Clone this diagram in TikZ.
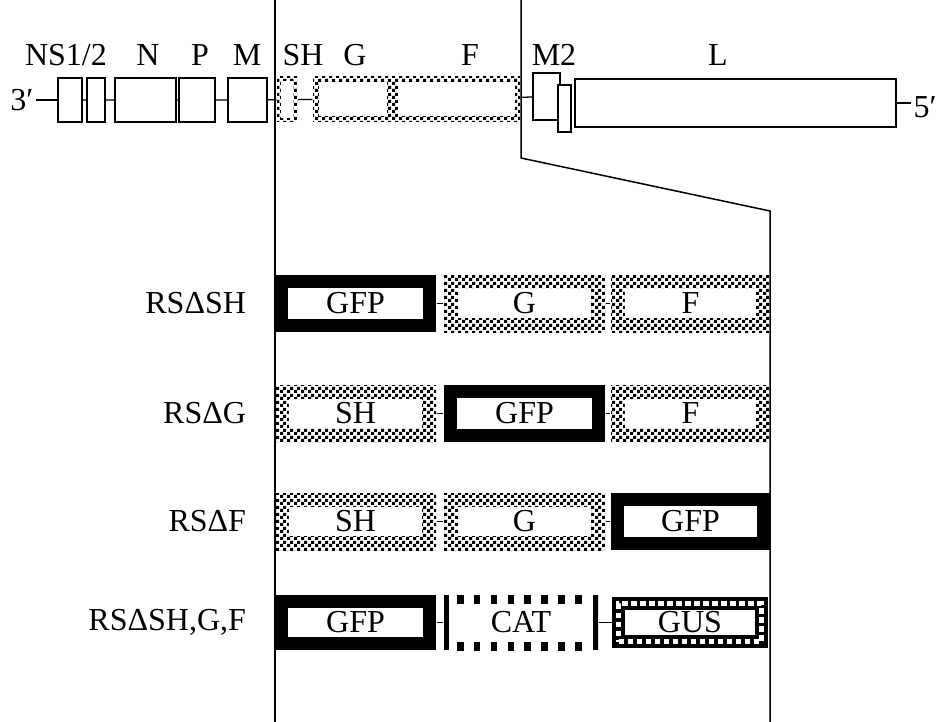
\documentclass[tikz,border=0pt]{standalone}
\usepackage{fontspec}
\setmainfont{Liberation Serif}
\usetikzlibrary{patterns}

% checker squares for the deleted genes
\pgfdeclarepatternformonly{chk}{\pgfpointorigin}{\pgfqpoint{7pt}{7pt}}{\pgfqpoint{7pt}{7pt}}{%
  \pgfpathrectangle{\pgfpointorigin}{\pgfqpoint{3.5pt}{3.5pt}}%
  \pgfpathrectangle{\pgfqpoint{3.5pt}{3.5pt}}{\pgfqpoint{3.5pt}{3.5pt}}%
  \pgfusepath{fill}}

\tikzset{
  gene/.style={draw, line width=1.3pt, fill=white, inner sep=0pt},
  inset/.style={path picture={\fill[white] ([shift={(#1,#1)}]path picture bounding box.south west)
      rectangle ([shift={(-#1,-#1)}]path picture bounding box.north east);}},
  chkbox/.style={inner sep=0pt, pattern=chk, inset=#1},
  rowbox/.style={minimum width=161pt, minimum height=57pt},
  gfpbox/.style={inner sep=0pt, fill=black, inset=13pt},
  catbox/.style={inner sep=0pt, path picture={
      \draw[line width=10pt] (path picture bounding box.north west) -- (path picture bounding box.south west);
      \draw[line width=10pt] (path picture bounding box.north east) -- (path picture bounding box.south east);
      \draw[line width=17pt, dash pattern=on 6.5pt off 10.36pt] ([xshift=13pt]path picture bounding box.north west) -- ([xshift=-11pt]path picture bounding box.north east);
      \draw[line width=17pt, dash pattern=on 6.5pt off 10.36pt] ([xshift=13pt]path picture bounding box.south west) -- ([xshift=-11pt]path picture bounding box.south east);}},
  gusbox/.style={draw, line width=13pt, inner sep=0pt,
      postaction={draw=white, line width=5.5pt, dash pattern=on 5.5pt off 3.5pt}},
  rowlab/.style={anchor=east},
  toplab/.style={anchor=base}
}

\begin{document}
\begin{tikzpicture}[x=1pt, y=-1pt, font=\fontsize{32}{38}\selectfont, line width=1.3pt]
\useasboundingbox (0,0) rectangle (945,722);
\def\xa{355.5}% column 1
\def\xb{524.5}% column 2
\def\xc{690.5}% column 3

% genome
\node[anchor=east, inner sep=2pt] (three) at (36,100) {3′};
\node[gene, minimum width=24pt, minimum height=44pt] (ns1) at (70,100) {};
\node[gene, minimum width=18pt, minimum height=44pt] (ns2) at (96,100) {};
\node[gene, minimum width=61pt, minimum height=44pt] (n) at (145.5,100) {};
\node[gene, minimum width=36pt, minimum height=44pt] (p) at (197,100) {};
\node[gene, minimum width=39pt, minimum height=44pt] (m) at (247.5,100) {};
\node[chkbox=4pt, minimum width=20pt, minimum height=45pt] (sh) at (287,99.5) {};
\node[chkbox=5.5pt, minimum width=79pt, minimum height=45pt] (g) at (352.5,99.5) {};
\node[chkbox=5.5pt, minimum width=128pt, minimum height=45pt] (f) at (456,99.5) {};
\node[gene, minimum width=27pt, minimum height=47pt] (m2) at (546.5,96.5) {};
\node[gene, minimum width=13pt, minimum height=47pt] (m2b) at (564.5,108.5) {};
\node[gene, minimum width=321pt, minimum height=48pt] (l) at (735.5,103) {};
\node[anchor=west, inner sep=2pt] (five) at (911,107) {5′};

\node[toplab] (tns) at (66,66) {NS1/2};
\node[toplab] (tn) at (148,66) {N};
\node[toplab] (tp) at (200,66) {P};
\node[toplab] (tm) at (247,66) {M};
\node[toplab] (tsh) at (303,66) {SH};
\node[toplab] (tg) at (355,66) {G};
\node[toplab] (tf) at (470,66) {F};
\node[toplab] (tm2) at (554,66) {M2};
\node[toplab] (tl) at (718,66) {L};

\draw (ns1.west -| three.east) -- (ns1.west);
\draw (ns1) -- (ns2) (ns2) -- (n) (n) -- (p) (p) -- (m) (m) -- (sh) (sh) -- (g) (f) -- (m2);
\draw (l.east) -- (l.east -| five.west);

% recombinants
\node[rowlab] (ra) at (250,303.5) {RSΔSH};
\node[gfpbox, rowbox] (gfpa) at (\xa,303.5) {GFP};
\node[chkbox=14pt, rowbox] (ga) at (\xb,303.5) {G};
\node[chkbox=14pt, rowbox, minimum width=159pt] (fa) at (\xc,303.5) {F};
\draw[line width=1.6pt] (gfpa) -- (ga) (ga) -- (fa);

\node[rowlab] (rb) at (250,413.5) {RSΔG};
\node[chkbox=14pt, rowbox] (shb) at (\xa,413.5) {SH};
\node[gfpbox, rowbox] (gfpb) at (\xb,413.5) {GFP};
\node[chkbox=14pt, rowbox, minimum width=159pt] (fb) at (\xc,413.5) {F};
\draw[line width=1.6pt] (shb) -- (gfpb) (gfpb) -- (fb);

\node[rowlab] (rc) at (250,521.5) {RSΔF};
\node[chkbox=14pt, rowbox] (shc) at (\xa,521.5) {SH};
\node[chkbox=14pt, rowbox] (gc) at (\xb,521.5) {G};
\node[gfpbox, rowbox, minimum width=159pt] (gfpc) at (\xc,521.5) {GFP};
\draw[line width=1.6pt] (shc) -- (gc) (gc) -- (gfpc);

\node[rowlab] (rd) at (250,622.5) {RSΔSH,G,F};
\node[gfpbox, rowbox, minimum height=55pt] (gfpd) at (\xa,622.5) {GFP};
\node[catbox, minimum width=154pt, minimum height=55pt] (catd) at (521,622.5) {CAT};
\node[gusbox, minimum width=143pt, minimum height=38pt] (gusd) at (690,622.5) {GUS};
\draw[line width=1.6pt] (gfpd) -- (catd) (catd) -- (gusd);

% zoom lines
\draw[line width=1.5pt] (275,0) -- (275,722);
\draw[line width=1.5pt] (521,0) -- (521,158) -- (770,211) -- (770,722);
\end{tikzpicture}
\end{document}
